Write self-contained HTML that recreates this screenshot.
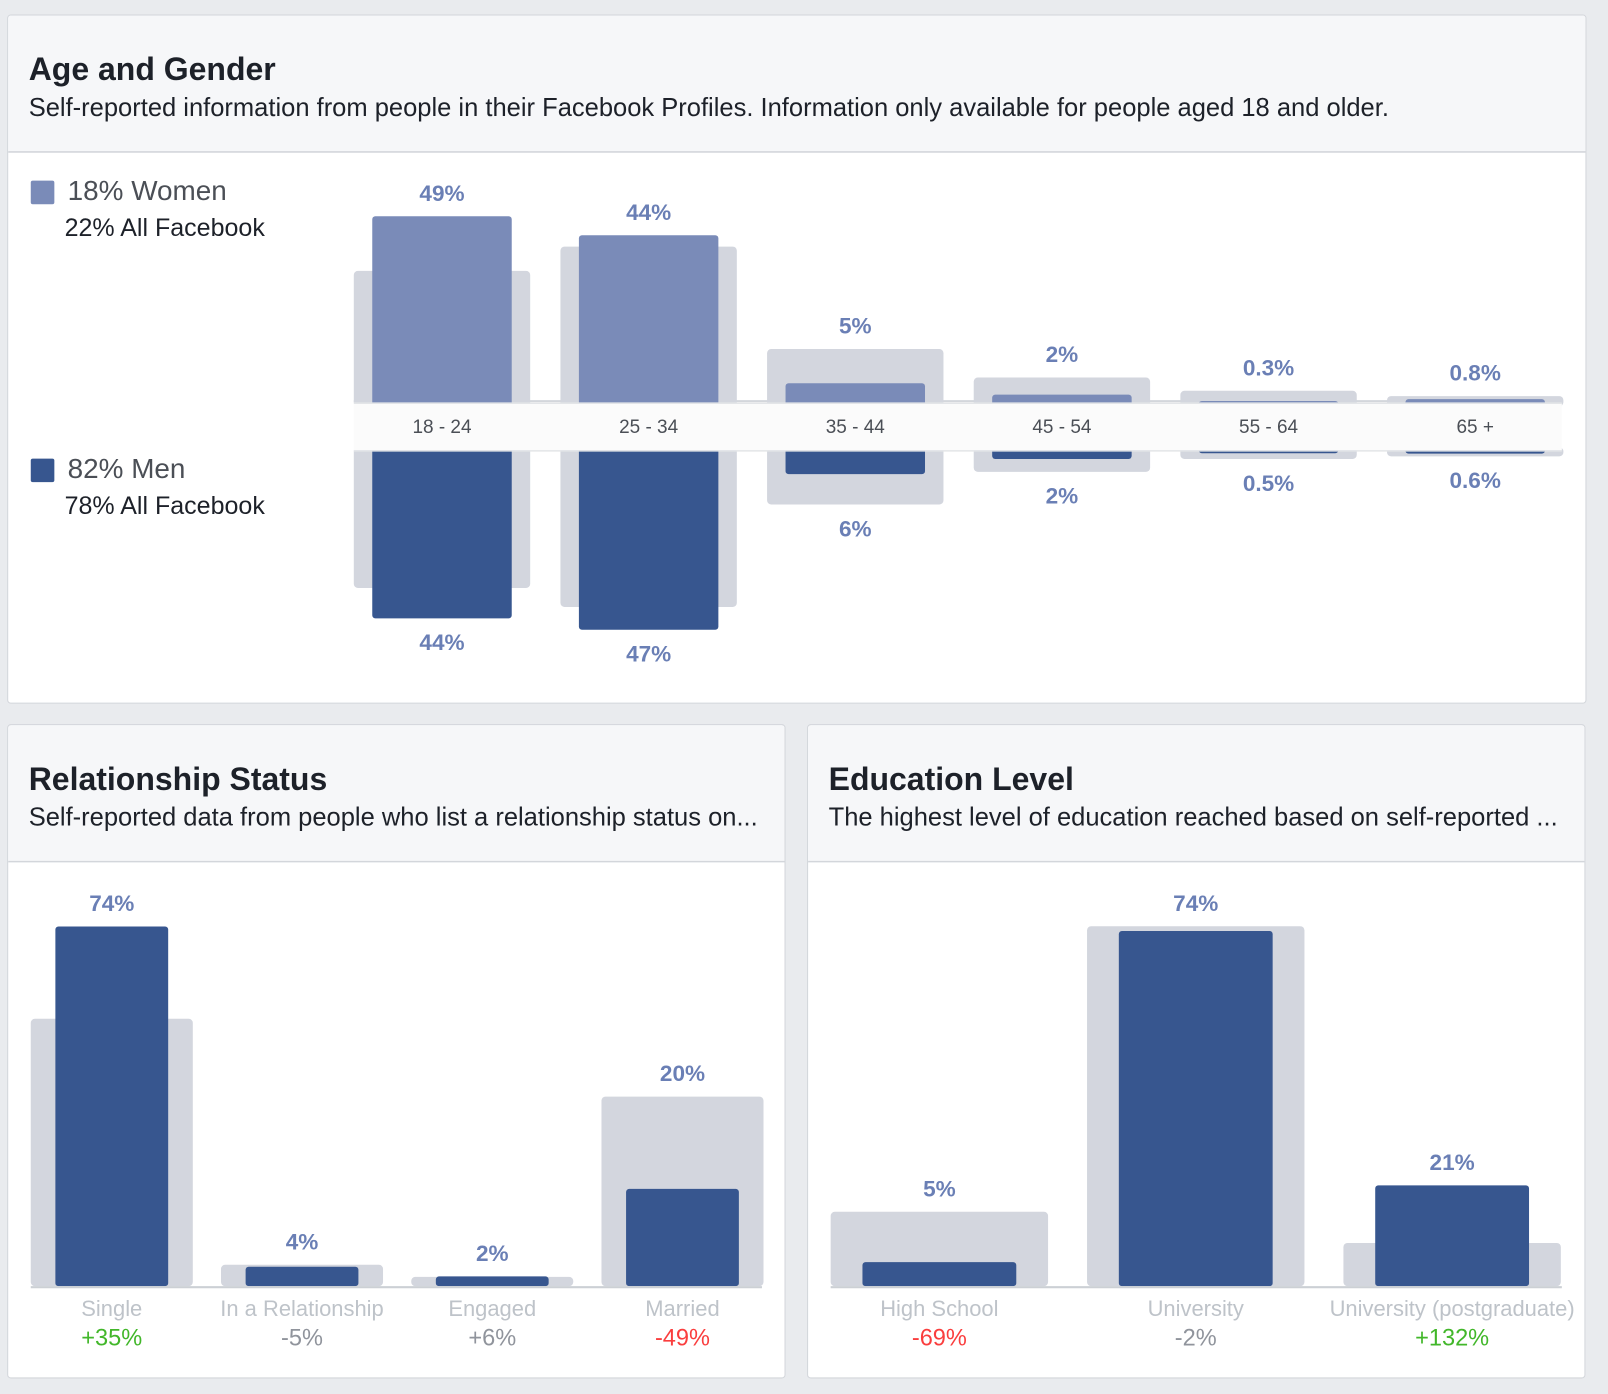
<!DOCTYPE html>
<html><head><meta charset="utf-8"><style>
html,body{margin:0;padding:0;background:#e9ebee;}
svg{display:block;font-family:"Liberation Sans",sans-serif;}
</style></head><body>
<svg id="page" width="1608" height="1394" viewBox="0 0 1568 1359" xmlns="http://www.w3.org/2000/svg">
<rect x="0" y="0" width="1568" height="1359" fill="#e9ebee"/>
<!-- Panel 1 -->
<g>
<rect x="7.5" y="14.5" width="1539" height="671" rx="3" fill="#fff" stroke="#d3d6db"/>
<path d="M8 148 V18 Q8 15 11 15 H1543 Q1546 15 1546 18 V148 Z" fill="#f6f7f9"/>
<line x1="8" y1="148" x2="1546" y2="148" stroke="#d3d6db" stroke-width="1.5"/>
<text x="28" y="78" font-size="31.2" font-weight="bold" fill="#1d2129">Age and Gender</text>
<text x="28" y="113" font-size="24.9" fill="#1d2129">Self-reported information from people in their Facebook Profiles. Information only available for people aged 18 and older.</text>
<rect x="30" y="176" width="23" height="23" rx="2" fill="#7a8bb8"/>
<text x="66" y="195" font-size="27.2" fill="#4b4f56">18% Women</text>
<text x="63" y="230" font-size="24.4" fill="#1d2129">22% All Facebook</text>
<rect x="30" y="447" width="23" height="23" rx="2" fill="#37568f"/>
<text x="66" y="466" font-size="27.2" fill="#4b4f56">82% Men</text>
<text x="63" y="501" font-size="24.4" fill="#1d2129">78% All Facebook</text>
<g id="ageChart"></g>
</g>
<!-- Panel 2 -->
<g>
<rect x="7.5" y="706.5" width="758" height="637" rx="3" fill="#fff" stroke="#d3d6db"/>
<path d="M8 840 V710 Q8 707 11 707 H762 Q765 707 765 710 V840 Z" fill="#f6f7f9"/>
<line x1="8" y1="840" x2="765" y2="840" stroke="#d3d6db" stroke-width="1.5"/>
<text x="28" y="770" font-size="31.2" font-weight="bold" fill="#1d2129">Relationship Status</text>
<text x="28" y="805" font-size="24.9" fill="#1d2129">Self-reported data from people who list a relationship status on...</text>
<g id="relChart"></g>
</g>
<!-- Panel 3 -->
<g>
<rect x="787.5" y="706.5" width="758" height="637" rx="3" fill="#fff" stroke="#d3d6db"/>
<path d="M788 840 V710 Q788 707 791 707 H1542 Q1545 707 1545 710 V840 Z" fill="#f6f7f9"/>
<line x1="788" y1="840" x2="1545" y2="840" stroke="#d3d6db" stroke-width="1.5"/>
<text x="808" y="770" font-size="31.2" font-weight="bold" fill="#1d2129">Education Level</text>
<text x="808" y="805" font-size="24.9" fill="#1d2129">The highest level of education reached based on self-reported ...</text>
<g id="eduChart"></g>
</g>
</svg>
<script>
const ageCategories = ["18 - 24","25 - 34","35 - 44","45 - 54","55 - 64","65 +"];
const womenValues = [49,44,5,2,0.3,0.8];
const womenLabels = ["49%","44%","5%","2%","0.3%","0.8%"];
const womenAllFacebook = [34.6,41,14,6.5,3,1.6];
const menValues = [44,47,6,2,0.5,0.6];
const menLabels = ["44%","47%","6%","2%","0.5%","0.6%"];
const menAllFacebook = [36,41,14,5.4,2,1.3];

const relCategories = ["Single","In a Relationship","Engaged","Married"];
const relValues = [74,4,2,20];
const relLabels = ["74%","4%","2%","20%"];
const relAllFacebook = [55,4.4,1.9,39];
const relDeltas = ["+35%","-5%","+6%","-49%"];

const eduCategories = ["High School","University","University (postgraduate)"];
const eduValues = [5,74,21];
const eduLabels = ["5%","74%","21%"];
const eduAllFacebook = [15.5,75,9];
const eduDeltas = ["-69%","-2%","+132%"];

const NS = "http://www.w3.org/2000/svg";
function mk(parent, tag, attrs, text){
  const e = document.createElementNS(NS, tag);
  for (const k in attrs) e.setAttribute(k, attrs[k]);
  if (text !== undefined) e.textContent = text;
  parent.appendChild(e);
  return e;
}
function deltaColor(d){ const n=parseFloat(d); return Math.abs(n)<10 ? "#90949c" : (n>0 ? "#42b72a" : "#fa3e3e"); }

// Age chart
(function(){
  const g = document.getElementById("ageChart");
  const x0 = 345, step = 201.5, gw = 172, bw = 136;
  const topBase = 392, botBase = 440, k = 3.7;
  const xc = i => x0 + gw/2 + i*step;
  const up = v => v*k, dn = v => v*k;
  mk(g,"line",{x1:345,y1:391,x2:1523,y2:391,stroke:"#d3d6db","stroke-width":2});
  ageCategories.forEach((c,i)=>{
    const cx = xc(i);
    const ghU = up(womenAllFacebook[i]), bhU = up(womenValues[i]);
    const ghD = dn(menAllFacebook[i]), bhD = dn(menValues[i]);
    let r = mk(g,"rect",{x:cx-gw/2,y:topBase-ghU,width:gw,height:ghU+4,rx:4,fill:"#d3d6de"});
    
    
    r = mk(g,"rect",{x:cx-gw/2,y:botBase-4,width:gw,height:ghD+4,rx:4,fill:"#d3d6de"});
    
    
    r = mk(g,"rect",{x:cx-bw/2,y:topBase-bhU,width:bw,height:bhU+4,rx:3,fill:"#7a8bb8"});
    
    
    r = mk(g,"rect",{x:cx-bw/2,y:botBase-4,width:bw,height:bhD+4,rx:3,fill:"#37568f"});
    
    
    let t = mk(g,"text",{x:cx,y:topBase-Math.max(ghU,bhU)-15,"text-anchor":"middle","font-size":22,"font-weight":"bold",fill:"#6a7fb5"},womenLabels[i]);
    
    
    t = mk(g,"text",{x:cx,y:botBase+Math.max(ghD,bhD)+31,"text-anchor":"middle","font-size":22,"font-weight":"bold",fill:"#6a7fb5"},menLabels[i]);
    
    
  });
  const band = mk(g,"rect",{x:345,y:393,width:1178,height:46,fill:"#fbfbfb"});
  
  
  mk(g,"line",{x1:345,y1:393,x2:1523,y2:393,stroke:"#e3e5e8","stroke-width":1.5});
  mk(g,"line",{x1:345,y1:439.5,x2:1523,y2:439.5,stroke:"#e3e5e8","stroke-width":1.5});
  ageCategories.forEach((c,i)=>{
    const t = mk(g,"text",{x:xc(i),y:422,"text-anchor":"middle","font-size":18.5,fill:"#4b4f56"},c);
    
    
  });
})();

function vchart(id, cats, vals, labels, allfb, deltas, x0, step, gw, bw, axisEnd, k){
  const g = document.getElementById(id);
  const base = 1254;
  const xc = i => x0 + gw/2 + i*step;
  const h = v => v*k;
  cats.forEach((c,i)=>{
    const cx = xc(i), gh = h(allfb[i]), bh = h(vals[i]);
    let r = mk(g,"rect",{x:cx-gw/2,y:base-gh,width:gw,height:gh,rx:4,fill:"#d3d6de"});
    
    
    r = mk(g,"rect",{x:cx-bw/2,y:base-bh,width:bw,height:bh,rx:3,fill:"#37568f"});
    
    
    let t = mk(g,"text",{x:cx,y:base-Math.max(gh,bh)-15,"text-anchor":"middle","font-size":22,"font-weight":"bold",fill:"#6a7fb5"},labels[i]);
    
    
    t = mk(g,"text",{x:cx,y:1283,"text-anchor":"middle","font-size":21.4,fill:"#bec3c9"},c);
    
    
    t = mk(g,"text",{x:cx,y:1312,"text-anchor":"middle","font-size":23,fill:deltaColor(deltas[i])},deltas[i]);
    
    
  });
  const ax = mk(g,"line",{x1:x0,y1:base+1,x2:axisEnd,y2:base+1,stroke:"#ccd0d5","stroke-width":2});
  
  
}
vchart("relChart", relCategories, relValues, relLabels, relAllFacebook, relDeltas, 30, 185.5, 158, 110, 743, 4.74);
vchart("eduChart", eduCategories, eduValues, eduLabels, eduAllFacebook, eduDeltas, 810, 250, 212, 150, 1523, 4.68);
</script>
</body></html>
